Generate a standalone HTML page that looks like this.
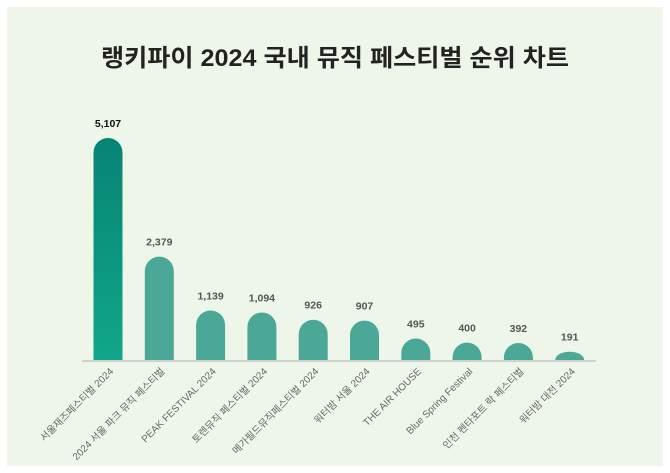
<!DOCTYPE html>
<html><head><meta charset="utf-8"><style>
body{margin:0;width:670px;height:473px;background:#fff;font-family:"Liberation Sans","Noto Sans CJK KR",sans-serif;overflow:hidden}
.card{position:absolute;left:7px;top:7px;width:656px;height:459px;background:#eef6e9}
</style></head><body>
<div class="card"></div>
<svg width="670" height="473" style="position:absolute;left:0;top:0" font-family="Liberation Sans, Noto Sans CJK KR, sans-serif">
<defs><linearGradient id="g1" x1="0" y1="0" x2="0" y2="1"><stop offset="0" stop-color="#078474"/><stop offset="1" stop-color="#10a78a"/></linearGradient></defs>
<text x="335" y="66" text-anchor="middle" font-size="24" font-weight="bold" fill="#222" textLength="468" lengthAdjust="spacingAndGlyphs">랭키파이 2024 국내 뮤직 페스티벌 순위 차트</text>
<line x1="82" y1="361" x2="596" y2="361" stroke="#d0d0d0" stroke-width="2"/>
<g id="bars"></g>
</svg>
<script>
var d=[["서울재즈페스티벌 2024",5107],["2024 서울 파크 뮤직 페스티벌",2379],["PEAK FESTIVAL 2024",1139],["토렌뮤직 페스티벌 2024",1094],["메가필드뮤직페스티벌 2024",926],["워터밤 서울 2024",907],["THE AIR HOUSE",495],["Blue Spring Festival",400],["인천 펜타포트 락 페스티벌",392],["워터밤 대전 2024",191]];
var s="",base=360,k=222/5107,w=29,r=14.5;
d.forEach(function(e,i){var cx=108+i*51.3,h=e[1]*k,x=cx-w/2,t=base-h,rr=Math.min(r,h);
var fill=i==0?"url(#g1)":"#4ba896";
s+='<path d="M'+x+' '+base+' L'+x+' '+(t+rr)+' A'+r+' '+rr+' 0 0 1 '+(x+w)+' '+(t+rr)+' L'+(x+w)+' '+base+' Z" fill="'+fill+'"/>';
s+='<text x="'+cx+'" y="'+(t-11)+'" text-anchor="middle" font-size="10.5" font-weight="bold" fill="'+(i==0?'#111':'#555')+'">'+e[1].toLocaleString('en-US')+'</text>';
s+='<text transform="translate('+(cx+6)+',372) rotate(-45)" text-anchor="end" font-size="10" fill="#666">'+e[0]+'</text>';});
document.getElementById("bars").innerHTML=s;
</script>
</body></html>
